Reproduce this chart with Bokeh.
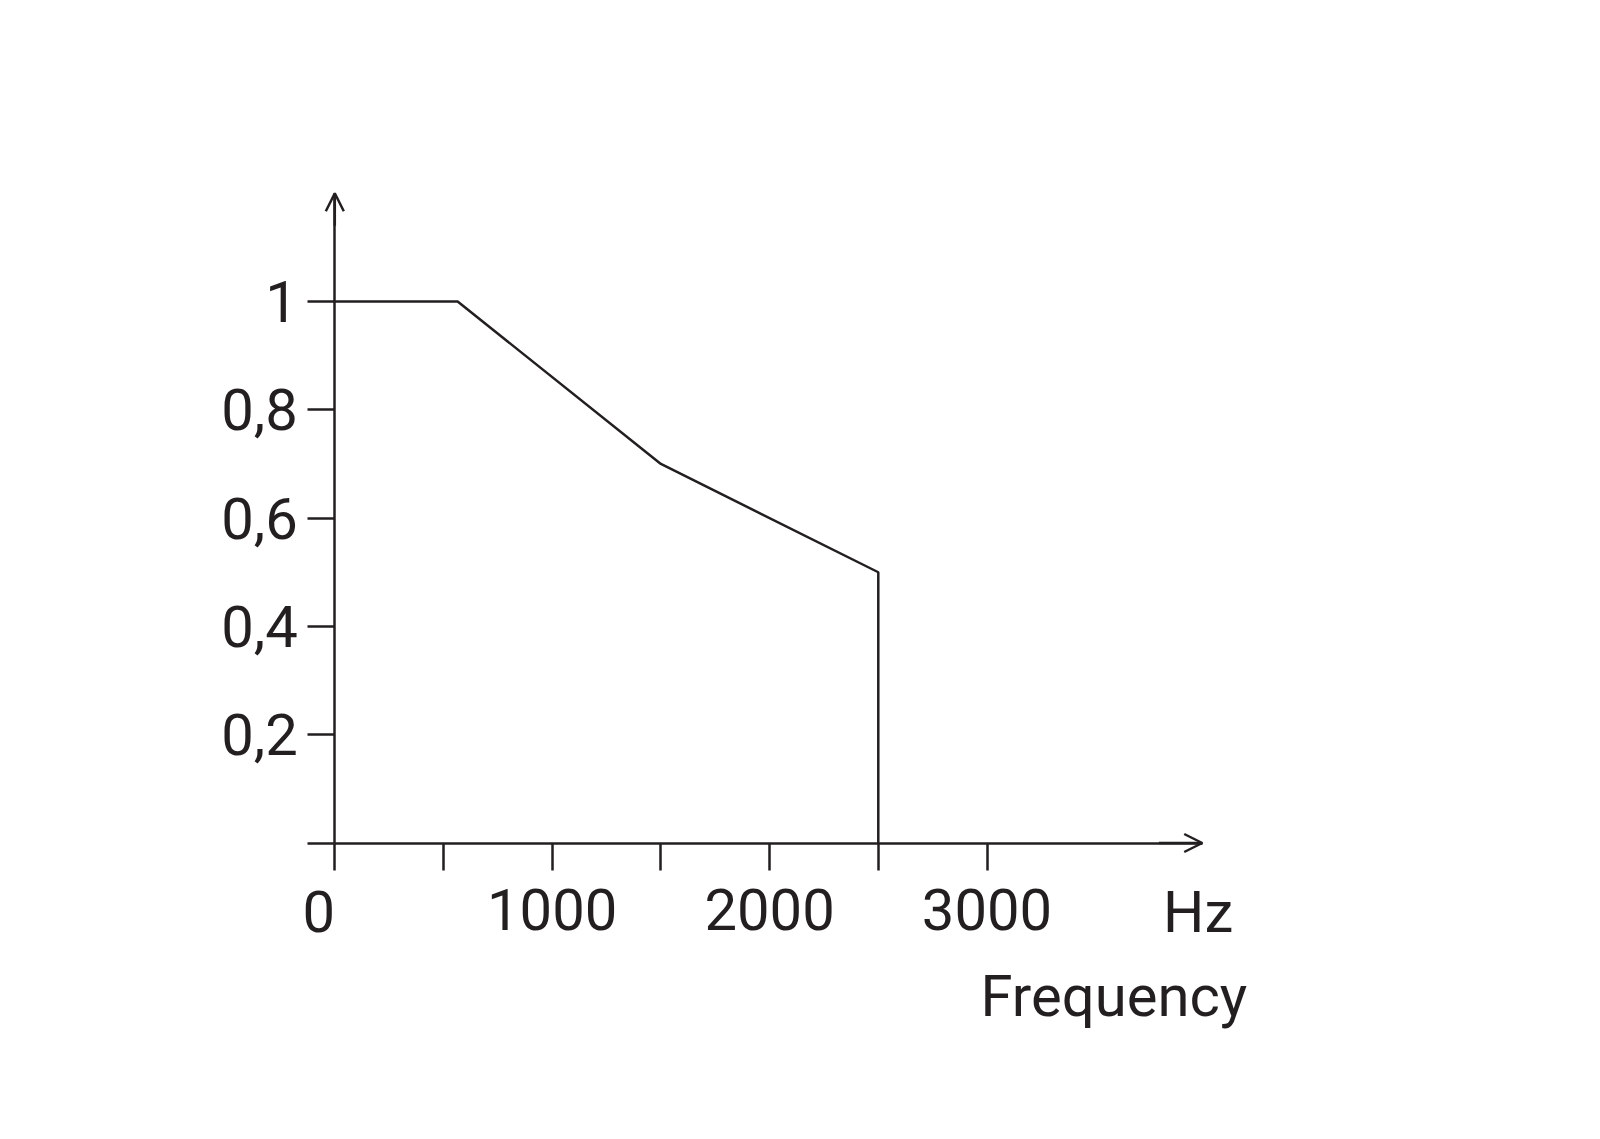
from bokeh.plotting import figure
from bokeh.models import (Range1d, LinearAxis, FixedTicker, Arrow, OpenHead, Label)
from bokeh.embed import file_html
from bokeh.resources import INLINE

# ---- data ----
freq_hz = [0, 565, 1500, 2500, 2500]
factor = [1.0, 1.0, 0.7, 0.5, 0.0]

x_ticks = [0, 500, 1000, 1500, 2000, 2500, 3000]
x_tick_labels = {0: "", 500: "", 1000: "1000", 1500: "", 2000: "2000", 2500: "", 3000: "3000"}
y_ticks = [0.0, 0.2, 0.4, 0.6, 0.8, 1.0]
y_tick_labels = {0.0: "", 0.2: "0,2", 0.4: "0,4", 0.6: "0,6", 0.8: "0,8", 1.0: "1"}

x_axis_end = 3990
y_axis_end = 1.2

INK = "#231f20"
FONT = "Roboto"
FS = "58px"
LW = 2.5

W, H = 1584, 1123
# pixel geometry of the drawing area
X0_PX, PX_PER_HZ = 334.3, 0.2174
Y0_PX, PX_PER_UNIT = 842.5, 541.5

p = figure(width=W, height=H, output_backend="svg", toolbar_location=None,
           x_axis_type=None, y_axis_type=None,
           x_range=Range1d(-X0_PX / PX_PER_HZ, (W - X0_PX) / PX_PER_HZ),
           y_range=Range1d(-(H - Y0_PX) / PX_PER_UNIT, Y0_PX / PX_PER_UNIT),
           min_border_left=0, min_border_right=0,
           min_border_top=0, min_border_bottom=0)
p.outline_line_color = None
p.xgrid.visible = False
p.ygrid.visible = False
p.background_fill_color = "white"
p.border_fill_color = "white"

xax = LinearAxis(ticker=FixedTicker(ticks=x_ticks, minor_ticks=[]),
                 fixed_location=0, bounds=(0, x_axis_end))
xax.major_label_overrides = x_tick_labels
yax = LinearAxis(ticker=FixedTicker(ticks=y_ticks, minor_ticks=[]),
                 fixed_location=0, bounds=(0, y_axis_end))
yax.major_label_overrides = y_tick_labels

for ax in (xax, yax):
    ax.axis_line_color = INK
    ax.axis_line_width = LW
    ax.major_tick_line_color = INK
    ax.major_tick_line_width = LW
    ax.major_tick_in = 0
    ax.major_tick_out = 27
    ax.minor_tick_line_color = None
    ax.major_label_text_font = FONT
    ax.major_label_text_font_size = FS
    ax.major_label_text_color = INK
xax.major_label_standoff = 19
yax.major_label_standoff = 10

p.add_layout(xax, "below")
p.add_layout(yax, "left")

p.line(freq_hz, factor, line_color=INK, line_width=LW)

# axis arrow heads
p.add_layout(Arrow(end=OpenHead(size=18, line_color=INK, line_width=LW),
                   x_start=0, y_start=y_axis_end * 0.95, x_end=0, y_end=y_axis_end,
                   line_color=INK, line_width=LW))
p.add_layout(Arrow(end=OpenHead(size=18, line_color=INK, line_width=LW),
                   x_start=x_axis_end * 0.95, y_start=0, x_end=x_axis_end, y_end=0,
                   line_color=INK, line_width=LW))

p.add_layout(Label(x=0, y=0, text="0", x_offset=-16, y_offset=-68.5,
                   text_align="center", text_baseline="alphabetic",
                   text_font=FONT, text_font_size=FS, text_color=INK))
p.add_layout(Label(x=x_axis_end, y=0, text="Hz", x_offset=31, y_offset=-68.5,
                   text_align="right", text_baseline="alphabetic",
                   text_font=FONT, text_font_size=FS, text_color=INK))
p.add_layout(Label(x=x_axis_end, y=0, text="Frequency", x_offset=45, y_offset=-152.5,
                   text_align="right", text_baseline="alphabetic",
                   text_font=FONT, text_font_size=FS, text_color=INK))

open("out.html", "w").write(file_html(p, INLINE))
